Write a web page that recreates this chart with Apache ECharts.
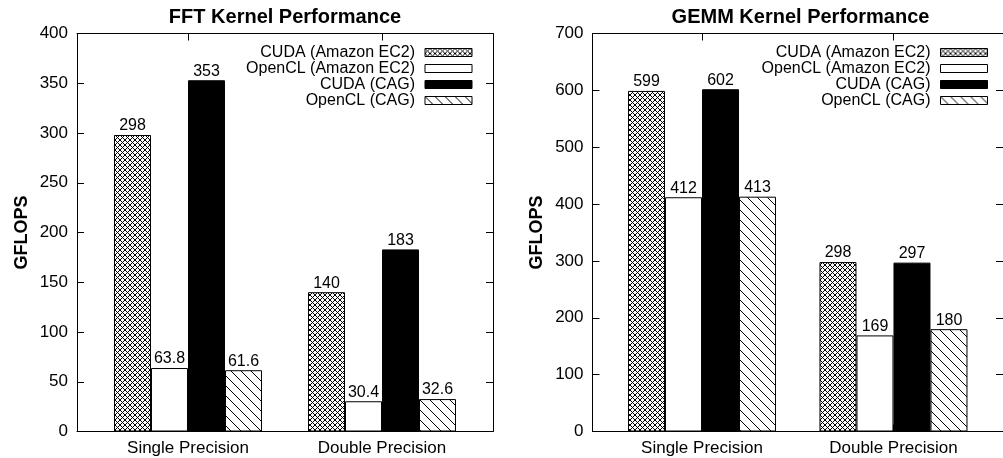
<!DOCTYPE html>
<html>
<head>
<meta charset="utf-8">
<script src="https://cdn.jsdelivr.net/npm/echarts@6/dist/echarts.min.js"></script>
<style>
  html, body { margin: 0; padding: 0; background: #fff; }
  #chart { width: 1003px; height: 458px; }
</style>
</head>
<body>
<div id="chart"></div>
<script>
// Benchmark results (GFLOPS) for two kernels on two platforms
const categories = ['Single Precision', 'Double Precision'];
const seriesNames = ['CUDA (Amazon EC2)', 'OpenCL (Amazon EC2)', 'CUDA (CAG)', 'OpenCL (CAG)'];
const panelTitles = ['FFT Kernel Performance', 'GEMM Kernel Performance'];

const fftCudaEC2 = [298, 140];
const fftOpenclEC2 = [63.8, 30.4];
const fftCudaCAG = [353, 183];
const fftOpenclCAG = [61.6, 32.6];

const gemmCudaEC2 = [599, 298];
const gemmOpenclEC2 = [412, 169];
const gemmCudaCAG = [602, 297];
const gemmOpenclCAG = [413, 180];

const fftYTicks = [0, 50, 100, 150, 200, 250, 300, 350, 400];
const gemmYTicks = [0, 100, 200, 300, 400, 500, 600, 700];

const FONT = '"Liberation Sans", Arial, Helvetica, sans-serif';

// Fill patterns: dense crosshatch, plain white, solid black, "\\" hatching
function tile(size, draw) {
  const c = document.createElement('canvas');
  c.width = size; c.height = size;
  const ctx = c.getContext('2d');
  ctx.fillStyle = '#fff';
  ctx.fillRect(0, 0, size, size);
  ctx.strokeStyle = '#000';
  ctx.lineWidth = 1;
  draw(ctx, size);
  return { image: c, repeat: 'repeat' };
}
const crossFill = tile(5, (ctx, s) => {
  ctx.beginPath();
  ctx.moveTo(-1, -1); ctx.lineTo(s + 1, s + 1);
  ctx.moveTo(s + 1, -1); ctx.lineTo(-1, s + 1);
  ctx.stroke();
});
const hatchFill = tile(10, (ctx, s) => {
  ctx.beginPath();
  ctx.moveTo(-1, -1); ctx.lineTo(s + 1, s + 1);
  ctx.moveTo(s - 1, -1); ctx.lineTo(s + 1, 1);
  ctx.moveTo(-1, s - 1); ctx.lineTo(1, s + 1);
  ctx.stroke();
});
const fills = [crossFill, '#ffffff', '#000000', hatchFill];

const panels = [
  { title: panelTitles[0], ticks: fftYTicks, values: [fftCudaEC2, fftOpenclEC2, fftCudaCAG, fftOpenclCAG] },
  { title: panelTitles[1], ticks: gemmYTicks, values: [gemmCudaEC2, gemmOpenclEC2, gemmCudaCAG, gemmOpenclCAG] }
];

const gridLeft = [77, 592.5];
const gridWidth = 416;
const gridTop = 33.5;
const gridHeight = 398;
const xMin = -0.572, xMax = 1.572;

const option = {
  animation: false,
  backgroundColor: '#fff',
  title: [], grid: [], xAxis: [], yAxis: [], legend: [], series: []
};

panels.forEach((p, k) => {
  const center = gridLeft[k] + gridWidth / 2;
  option.title.push({
    text: p.title, left: center, top: 7, textAlign: 'center', padding: 0,
    textStyle: { fontFamily: FONT, fontSize: 20, fontWeight: 'bold', color: '#000' }
  });
  option.grid.push({ left: gridLeft[k], top: gridTop, width: gridWidth, height: gridHeight });

  const catIdx = categories.map((_, i) => i);
  const lineStyle = { color: '#000', width: 1 };
  // bottom axis carrying the category names
  option.xAxis.push({
    type: 'value', gridIndex: k, min: xMin, max: xMax, position: 'bottom',
    axisLine: { show: true, onZero: false, lineStyle },
    axisTick: { show: true, inside: true, length: 7, customValues: catIdx, lineStyle },
    axisLabel: {
      show: true, customValues: catIdx, margin: 8,
      formatter: v => categories[Math.round(v)],
      fontFamily: FONT, fontSize: 17, color: '#000'
    },
    splitLine: { show: false }
  });
  // top border with mirrored ticks
  option.xAxis.push({
    type: 'value', gridIndex: k, min: xMin, max: xMax, position: 'top',
    axisLine: { show: true, onZero: false, lineStyle },
    axisTick: { show: true, inside: true, length: 7, customValues: catIdx, lineStyle },
    axisLabel: { show: false },
    splitLine: { show: false }
  });
  const yMax = p.ticks[p.ticks.length - 1];
  const yStep = p.ticks[1] - p.ticks[0];
  option.yAxis.push({
    type: 'value', gridIndex: k, min: p.ticks[0], max: yMax, interval: yStep, position: 'left',
    name: 'GFLOPS', nameLocation: 'middle', nameGap: 46, nameRotate: 90,
    nameTextStyle: { fontFamily: FONT, fontSize: 18, fontWeight: 'bold', color: '#000' },
    axisLine: { show: true, onZero: false, lineStyle },
    axisTick: { show: true, inside: true, length: 7, lineStyle },
    axisLabel: { show: true, margin: 9, fontFamily: FONT, fontSize: 17, color: '#000' },
    splitLine: { show: false }
  });
  option.yAxis.push({
    type: 'value', gridIndex: k, min: p.ticks[0], max: yMax, interval: yStep, position: 'right',
    axisLine: { show: true, onZero: false, lineStyle },
    axisTick: { show: true, inside: true, length: 7, lineStyle },
    axisLabel: { show: false },
    splitLine: { show: false }
  });

  option.legend.push({
    data: seriesNames, orient: 'vertical', align: 'right',
    right: 1003 - (gridLeft[k] + gridWidth - 20.5), top: 44.5, padding: 0,
    icon: 'rect', itemWidth: 47, itemHeight: 8, itemGap: 0, selectedMode: false,
    itemStyle: { borderColor: '#000', borderWidth: 1 },
    textStyle: { fontFamily: FONT, fontSize: 16, color: '#000', lineHeight: 15.5, padding: [0, 5, 0, 0] }
  });

  seriesNames.forEach((name, s) => {
    option.series.push({
      type: 'bar', name, xAxisIndex: 2 * k, yAxisIndex: 2 * k,
      data: p.values[s].map((v, i) => [i, v]),
      barWidth: 37, barGap: '0%',
      itemStyle: { color: fills[s], borderColor: '#000', borderWidth: 1 },
      label: {
        show: true, position: 'top', distance: 1,
        formatter: d => String(d.value[1]),
        fontFamily: FONT, fontSize: 16, color: '#000'
      }
    });
  });
});

const chart = echarts.init(document.getElementById('chart'), null, { renderer: 'canvas' });
chart.setOption(option);
</script>
</body>
</html>
